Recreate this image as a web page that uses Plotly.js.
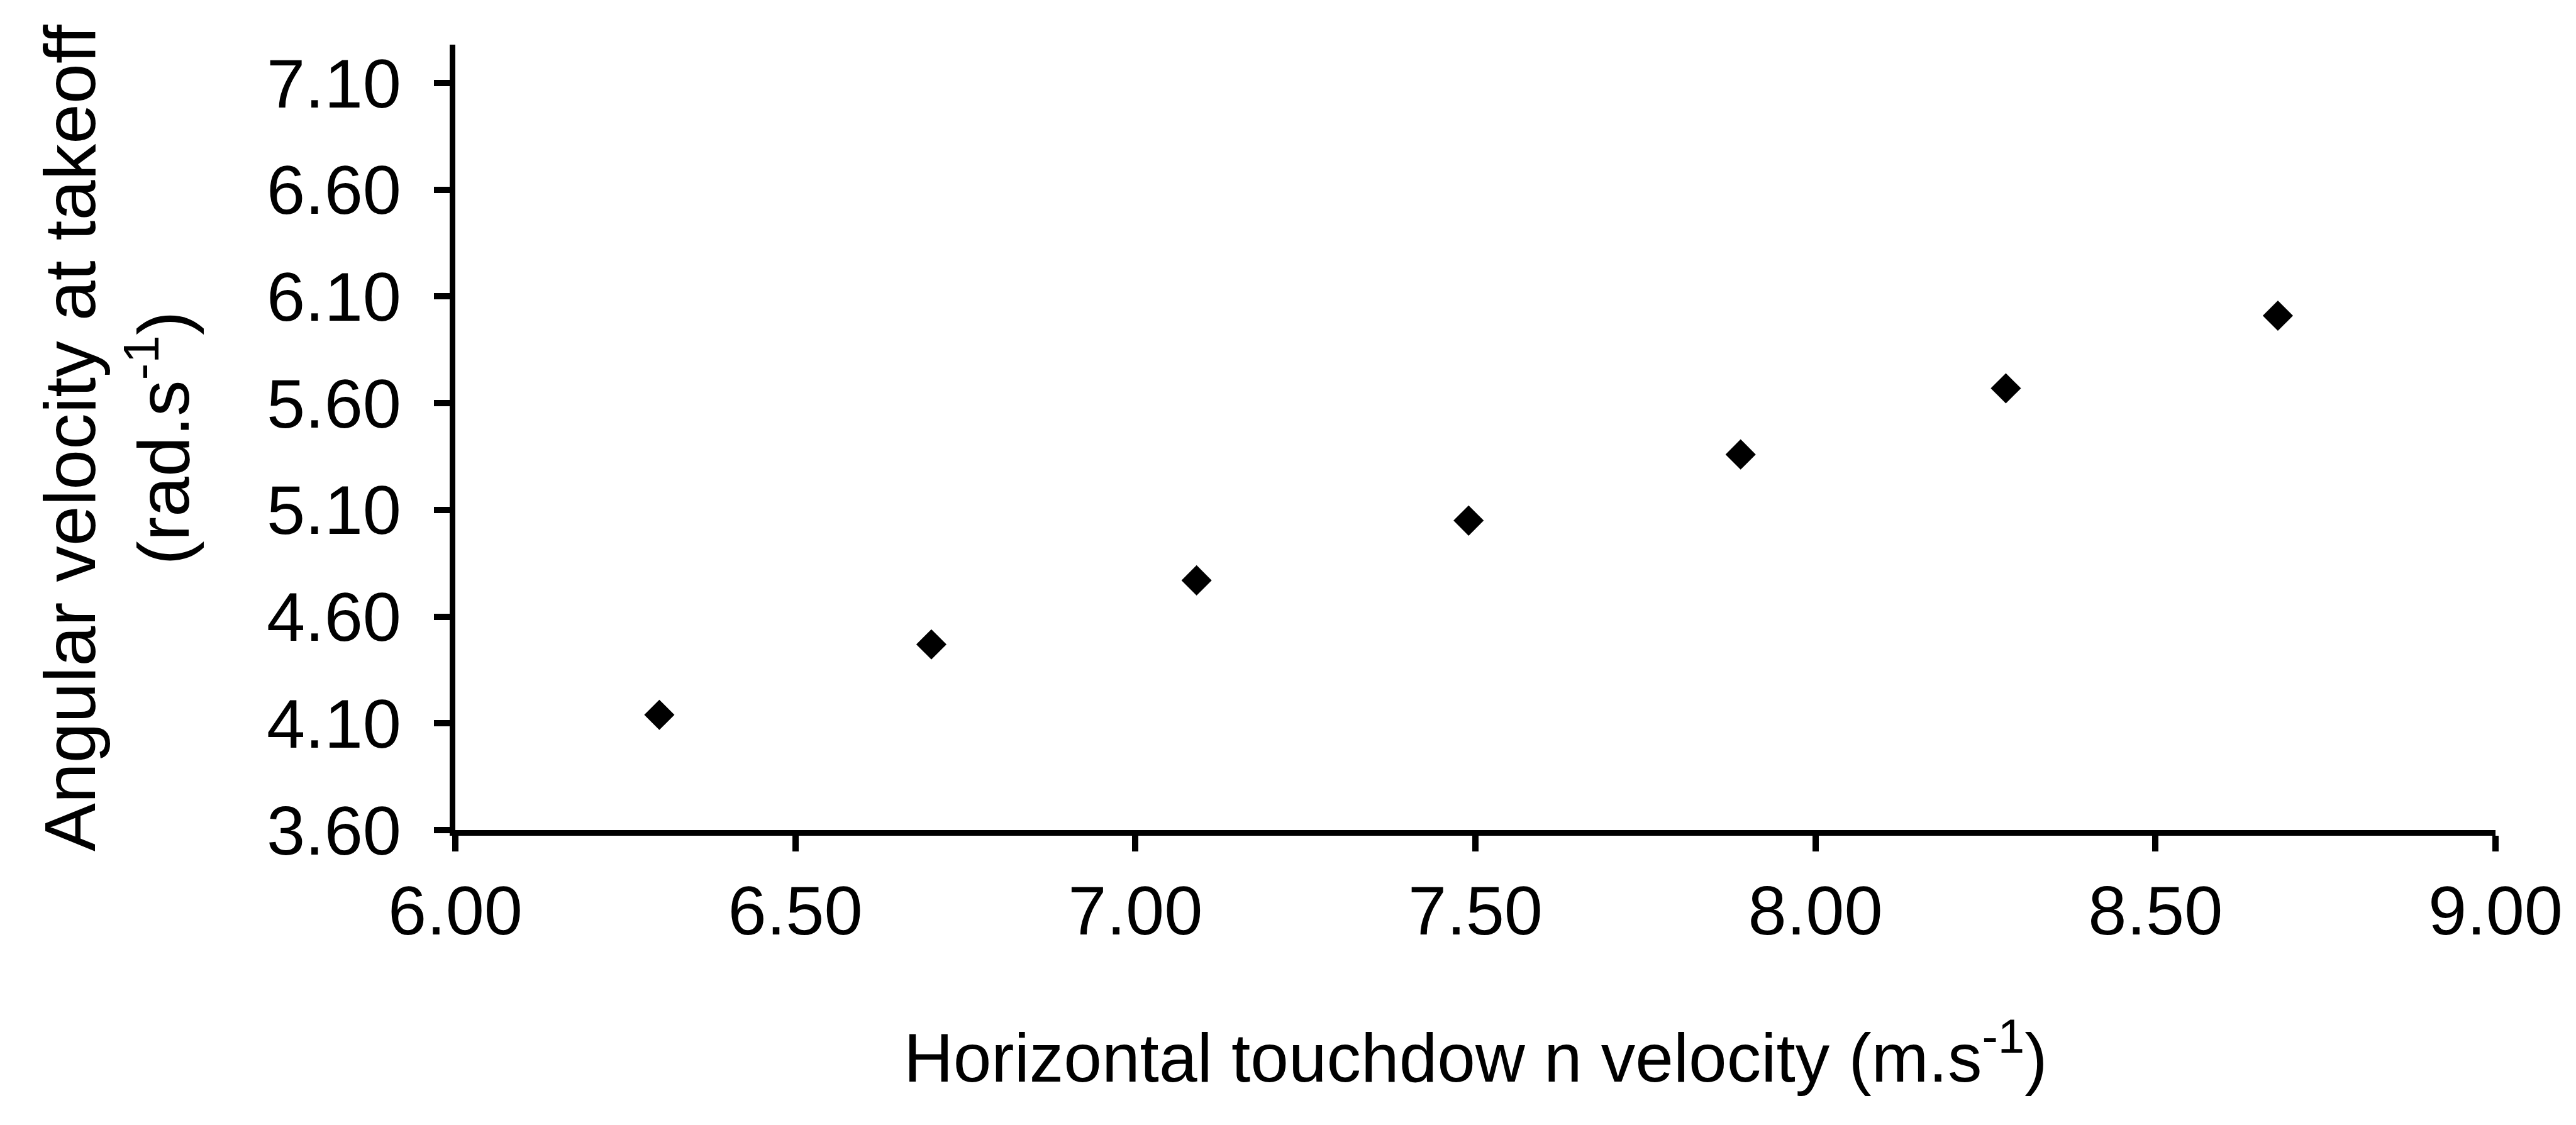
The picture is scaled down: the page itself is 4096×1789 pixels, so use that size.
<!DOCTYPE html>
<html>
<head>
<meta charset="utf-8">
<script src="https://cdn.plot.ly/plotly-3.0.1.min.js"></script>
<style>
  html, body { margin: 0; padding: 0; background: #ffffff; }
  #chart { width: 4096px; height: 1789px; }
</style>
</head>
<body>
<div id="chart"></div>
<script>
// Horizontal touchdown velocity (m/s) against angular velocity at takeoff (rad/s)
const touchdownVelocity = [6.30, 6.70, 7.09, 7.49, 7.89, 8.28, 8.68];
const angularVelocity   = [4.14, 4.47, 4.77, 5.05, 5.36, 5.67, 6.01];

const xTickValues = [6.00, 6.50, 7.00, 7.50, 8.00, 8.50, 9.00];
const yTickValues = [3.60, 4.10, 4.60, 5.10, 5.60, 6.10, 6.60, 7.10];

const xTitle = 'Horizontal touchdow n velocity (m.s<sup>-1</sup>)';
const yTitle = 'Angular velocity at takeoff<br>(rad.s<sup>-1</sup>)';

const FONT = '"Liberation Sans", Arial, Helvetica, sans-serif';

const trace = {
  type: 'scatter',
  mode: 'markers',
  x: touchdownVelocity,
  y: angularVelocity,
  marker: { symbol: 'diamond', size: 37, color: '#000000', line: { width: 0 } },
  hoverinfo: 'x+y',
  showlegend: false
};

const axisCommon = {
  showline: true,
  linecolor: '#000000',
  linewidth: 9,
  ticks: 'outside',
  ticklen: 25,
  tickwidth: 10,
  tickcolor: '#000000',
  showgrid: false,
  zeroline: false,
  tickmode: 'array',
  tickformat: '.2f',
  tickfont: { family: FONT, size: 110, color: '#000000' },
  fixedrange: true
};

const layout = {
  width: 4096,
  height: 1789,
  margin: { l: 724, r: 128, t: 71, b: 469 },
  paper_bgcolor: '#ffffff',
  plot_bgcolor: '#ffffff',
  font: { family: FONT, color: '#000000' },
  xaxis: Object.assign({}, axisCommon, {
    range: [6.0, 9.0],
    tickvals: xTickValues,
    ticktext: xTickValues.map(v => v.toFixed(2))
  }),
  yaxis: Object.assign({}, axisCommon, {
    range: [3.6, 7.28],
    tickvals: yTickValues,
    ticktext: yTickValues.map(v => v.toFixed(2)),
    ticklabelstandoff: 30
  }),
  annotations: [
    {
      text: xTitle,
      xref: 'paper', yref: 'paper',
      x: 0.5, y: -0.2836,
      xanchor: 'center', yanchor: 'middle',
      showarrow: false,
      font: { family: FONT, size: 109, color: '#000000' }
    },
    {
      text: yTitle,
      xref: 'paper', yref: 'paper',
      x: -0.166, y: 0.5,
      xanchor: 'center', yanchor: 'middle',
      textangle: -90,
      showarrow: false,
      font: { family: FONT, size: 115, color: '#000000' }
    }
  ]
};

Plotly.newPlot('chart', [trace], layout, { displayModeBar: false, staticPlot: true });
</script>
</body>
</html>
